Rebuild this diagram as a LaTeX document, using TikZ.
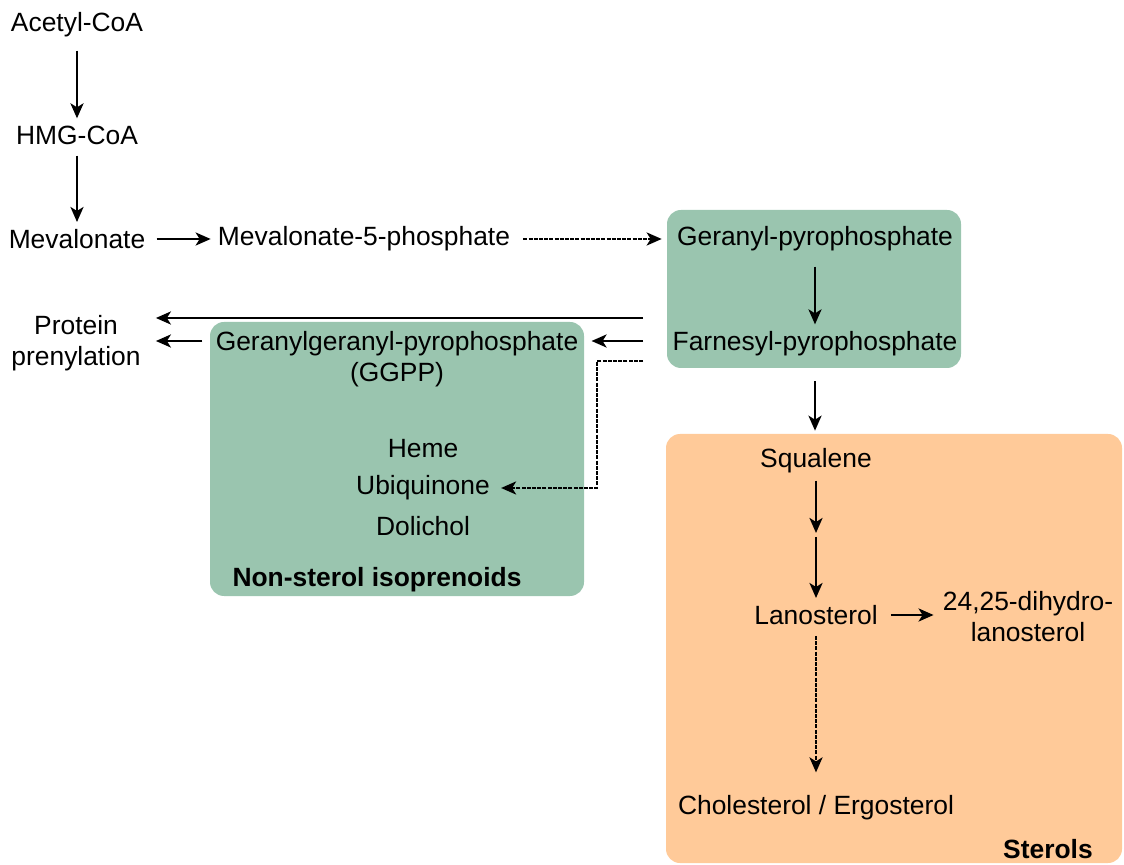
\documentclass[tikz,border=0pt]{standalone}
\usepackage{fontspec}
\setmainfont{Liberation Sans}
\usetikzlibrary{arrows.meta, positioning}
\definecolor{cgreen}{HTML}{9AC5AF}
\definecolor{corange}{HTML}{FFCA99}
\tikzset{
  every picture/.style={line width=1.3pt},
  txt/.style={inner sep=3pt, align=center, yshift=-1.5pt, font=\fontsize{13.2}{15.5}\selectfont},
  group/.style={fill=#1, draw=none, rounded corners=7pt, inner sep=0pt},
  arrow/.style={-{Stealth[length=7.5pt, width=6.5pt, inset=2pt]}},
  dasharrow/.style={arrow, dash pattern=on 2pt off 0.6pt},
  grouptitle/.style={txt, font=\fontsize{13.2}{15.5}\selectfont\bfseries},
}

\begin{document}
\begin{tikzpicture}[x=0.5pt, y=-0.5pt]
  \useasboundingbox (0,0) rectangle (1124,865);
  % group boxes
  \node[group=cgreen, minimum width=147pt, minimum height=79pt] (gppbox) at (814,289) {};
  \node[group=cgreen, minimum width=187pt, minimum height=137pt] (isobox) at (397,459) {};
  \node[group=corange, minimum width=228pt, minimum height=214.5pt] (sterbox) at (894,648.5) {};
  % mevalonate pathway
  \node[txt] (acoa) at (77,22) {Acetyl-CoA};
  \node[txt] (hmg) at (77,132) {HMG-CoA};
  \node[txt] (mev) at (77,236) {Mevalonate};
  \node[txt] (mev5p) at (364,236) {Mevalonate-5-phosphate};
  \node[txt] (gpp) at (815,236) {Geranyl-pyrophosphate};
  \node[txt] (fpp) at (815,341) {Farnesyl-pyrophosphate};
  % non-sterol branch
  \node[txt] (prot) at (76,340.5) {Protein\\prenylation};
  \node[txt] (ggpp) at (397,356) {Geranylgeranyl-pyrophosphate\\(GGPP)};
  \node[txt] (heme) at (423,446) {Heme};
  \node[txt] (ubiq) at (423,485) {Ubiquinone};
  \node[txt] (doli) at (423,523) {Dolichol};
  \node[grouptitle] (nonst) at (377,577) {Non-sterol isoprenoids};
  % sterol branch
  \node[txt] (squa) at (816,458) {Squalene};
  \node[txt] (lano) at (816,612) {Lanosterol};
  \node[txt] (dhl) at (1028,614) {24,25-dihydro-\\lanosterol};
  \node[txt] (chol) at (816,805) {Cholesterol / Ergosterol};
  \node[grouptitle, anchor=east] (sterols) at (1100,846) {Sterols};
  % helper points
  \coordinate (fppa) at (643,318);
  \coordinate (fppb) at (643,341);
  \coordinate (fppc) at (643,361);
  \coordinate (sqa) at (816,533);
  \coordinate (sqb) at (816,537);
  % connectors
  \draw[arrow] ([yshift=-3pt]acoa.south) -- (hmg);
  \draw[arrow] ([yshift=-2pt]hmg.south) -- (mev);
  \draw[arrow] ([xshift=2pt]mev.east) -- (mev5p);
  \draw[dasharrow] ([xshift=3pt]mev5p.east) -- ([xshift=-2pt]gppbox.west |- gpp);
  \draw[arrow] ([yshift=-4pt]gpp.south) -- (fpp);
  \draw[arrow] (fppa) -- ([xshift=4pt]fppa -| prot.east);
  \draw[arrow] (fppb) -- ([xshift=3pt]fppb -| ggpp.east);
  \draw[arrow] ([xshift=-3pt]ggpp.west |- fppb) -- ([xshift=4pt]fppb -| prot.east);
  \draw[dasharrow] (fppc) -- ++(-46,0) |- ([xshift=2pt]ubiq.east);
  \draw[arrow] (fpp.south |- gppbox.south) ++(0,12) -- ([yshift=1pt]sterbox.north -| fpp.south);
  \draw[arrow] (squa) -- (sqa);
  \draw[arrow] (sqb) -- (lano);
  \draw[arrow] ([xshift=3pt]lano.east) -- ([xshift=-1pt]dhl.west |- lano);
  \draw[dasharrow] ([yshift=-2pt]lano.south) -- ([yshift=8pt]chol.north);
\end{tikzpicture}
\end{document}
